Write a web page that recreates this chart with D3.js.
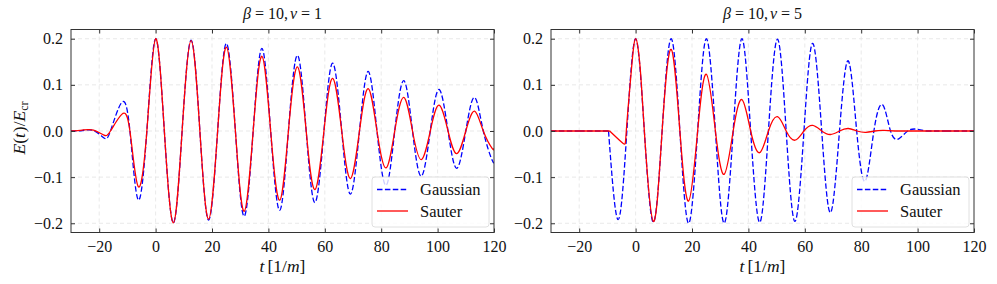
<!DOCTYPE html>
<html>
<head>
<meta charset="utf-8">
<script src="https://cdn.jsdelivr.net/npm/d3@7"></script>
<style>
  body { margin: 0; background: #fff; }
  svg text { font-family: "Liberation Serif", "DejaVu Serif", serif; fill: #111; }
</style>
</head>
<body>
<svg id="chart" width="997" height="284"></svg>
<script>
// values: extrema and zero crossings of E(t)/E_cr
let tNu1 = [-30, -26, -22, -18.3, -16, -12, -9.1, -6.2, -3.1, 0, 3.1, 6.3, 9.4, 12.6, 15.7, 18.8, 22.0, 25.1, 28.3, 31.4, 34.6, 37.7, 40.8, 44.0, 47.1, 50.3, 53.4, 56.5, 59.7, 62.8, 66.0, 69.1, 72.3, 75.4, 78.5, 81.7, 84.8, 88.0, 91.1, 94.2, 97.4, 100.5, 103.7, 106.8, 110.0, 113.1, 116.2, 119.4, 120];
let gaussNu1 = [0, 0.001, 0.001, -0.015, 0, 0.062, 0, -0.149, 0, 0.2, 0, -0.199, 0, 0.197, 0, -0.193, 0, 0.19, 0, -0.185, 0, 0.179, 0, -0.172, 0, 0.164, 0, -0.155, 0, 0.147, 0, -0.137, 0, 0.129, 0, -0.118, 0, 0.109, 0, -0.098, 0, 0.090, 0, -0.081, 0, 0.073, 0, -0.064, -0.063];
let sauterNu1 = [0, 0.002, 0.002, -0.009, 0, 0.036, 0, -0.120, 0, 0.2, 0, -0.199, 0, 0.196, 0, -0.191, 0, 0.182, 0, -0.174, 0, 0.162, 0, -0.150, 0, 0.139, 0, -0.127, 0, 0.114, 0, -0.103, 0, 0.092, 0, -0.080, 0, 0.073, 0, -0.062, 0, 0.056, 0, -0.049, 0, 0.043, 0, -0.038, -0.037];

let tGaussNu5 = [-30, -20, -9.6, -6.2, -3.1, 0, 3.1, 6.3, 9.4, 12.6, 15.7, 18.8, 22.0, 25.1, 28.3, 31.4, 34.6, 37.7, 40.8, 44.0, 47.1, 50.3, 53.4, 56.5, 59.7, 62.8, 66.0, 69.1, 72.3, 75.4, 78.4, 81.4, 84.5, 87.6, 90.4, 93.3, 96.5, 99.7, 103, 110, 120];
let gaussNu5 = [0, 0, 0, -0.192, 0, 0.2, 0, -0.198, 0, 0.2, 0, -0.2, 0, 0.2, 0, -0.2, 0, 0.2, 0, -0.198, 0, 0.199, 0, -0.196, 0, 0.19, 0, -0.177, 0, 0.152, 0, -0.109, 0, 0.057, 0, -0.017, 0, 0.004, 0, 0, 0];
let tSauterNu5 = [-30, -20, -9.2, -4.4, -3.3, -1.6, 0, 1.6, 3.1, 6.3, 9.4, 12.6, 15.7, 18.8, 22.0, 25.1, 28.3, 31.4, 34.6, 37.7, 40.8, 44.0, 47.1, 50.3, 53.4, 56.5, 59.7, 62.8, 66.0, 69.1, 72.3, 75.4, 78.5, 81.7, 84.8, 88.0, 92, 100, 110, 120];
let sauterNu5 = [0, 0, 0, -0.027, 0, 0.125, 0.2, 0.138, 0, -0.196, 0, 0.177, 0, -0.152, 0, 0.123, 0, -0.094, 0, 0.068, 0, -0.047, 0, 0.031, 0, -0.020, 0, 0.012, 0, -0.0076, 0, 0.0054, 0, -0.003, 0, 0.0012, 0, 0, 0, 0];

let nuValues = ["1", "5"];
let seriesNames = ["Gaussian", "Sauter"];
let xTicks = [-20, 0, 20, 40, 60, 80, 100, 120];
let yTicks = [-0.2, -0.1, 0.0, 0.1, 0.2];

let plotTop = 29.5, plotBottom = 232.5;
let panels = [
  { x0: 71, x1: 494, nu: nuValues[0], data: [[tNu1, gaussNu1], [tNu1, sauterNu1]] },
  { x0: 551, x1: 974, nu: nuValues[1], data: [[tGaussNu5, gaussNu5], [tSauterNu5, sauterNu5]] }
];
let styles = [
  { color: "#0000ff", dash: "5.5,2.4" },
  { color: "#ff0000", dash: null }
];

let svg = d3.select("#chart");
let fmt = d3.format(".1f");
let minus = (s) => s.replace("-", "\u2212");

// split a series: long runs of exact zeros are drawn straight, the rest as a smooth spline
function pieces(ts, vs) {
  let pts = ts.map((t, i) => [t, vs[i]]);
  let smooth = [], flat = [];
  let cur = [pts[0]];
  for (let i = 1; i < pts.length; i++) {
    let a = pts[i - 1], b = pts[i];
    if (a[1] === 0 && b[1] === 0 && b[0] - a[0] > 4) {
      if (cur.length > 1) smooth.push(cur);
      flat.push([a, b]);
      cur = [b];
    } else {
      cur.push(b);
    }
  }
  if (cur.length > 1) smooth.push(cur);
  return { smooth, flat };
}

panels.forEach((p, pi) => {
  let x = d3.scaleLinear().domain([-30, 120]).range([p.x0, p.x1]);
  let y = d3.scaleLinear().domain([-0.22, 0.22]).range([plotBottom, plotTop]);
  let g = svg.append("g");

  g.append("clipPath").attr("id", "clip" + pi)
    .append("rect").attr("x", p.x0).attr("y", plotTop).attr("width", p.x1 - p.x0).attr("height", plotBottom - plotTop);

  // grid
  g.selectAll(".gx").data(xTicks.filter(d => d < 120)).enter().append("line")
    .attr("x1", d => x(d)).attr("x2", d => x(d)).attr("y1", plotTop).attr("y2", plotBottom)
    .attr("stroke", "#e3e3e3").attr("stroke-width", 0.8).attr("stroke-dasharray", "4,3");
  g.selectAll(".gy").data(yTicks).enter().append("line")
    .attr("x1", p.x0).attr("x2", p.x1).attr("y1", d => y(d)).attr("y2", d => y(d))
    .attr("stroke", "#e3e3e3").attr("stroke-width", 0.8).attr("stroke-dasharray", "4,3");

  // curves
  let smoothLine = d3.line().x(d => x(d[0])).y(d => y(d[1])).curve(d3.curveNatural);
  let flatLine = d3.line().x(d => x(d[0])).y(d => y(d[1]));
  let plot = g.append("g").attr("clip-path", "url(#clip" + pi + ")");
  p.data.forEach((s, si) => {
    let pc = pieces(s[0], s[1]);
    let paths = pc.flat.map(f => flatLine(f)).concat(pc.smooth.map(sm => smoothLine(sm)));
    plot.append("path")
      .attr("d", paths.join(""))
      .attr("fill", "none")
      .attr("stroke", styles[si].color)
      .attr("stroke-width", 1.3)
      .attr("stroke-dasharray", styles[si].dash);
  });

  // legend
  let lg = g.append("g");
  lg.append("rect").attr("x", p.x1 - 122).attr("y", 177).attr("width", 117).attr("height", 50)
    .attr("rx", 3).attr("fill", "#fff").attr("fill-opacity", 0.8)
    .attr("stroke", "#d8d8d8").attr("stroke-width", 0.8);
  seriesNames.forEach((name, si) => {
    let ly = 189.5 + si * 21.5;
    lg.append("line").attr("x1", p.x1 - 117).attr("x2", p.x1 - 86).attr("y1", ly).attr("y2", ly)
      .attr("stroke", styles[si].color).attr("stroke-width", 1.3)
      .attr("stroke-dasharray", styles[si].dash);
    lg.append("text").attr("x", p.x1 - 74).attr("y", ly + 5.5).attr("font-size", 16.5).text(name);
  });

  // frame with inward ticks on all sides
  g.append("rect").attr("x", p.x0).attr("y", plotTop).attr("width", p.x1 - p.x0).attr("height", plotBottom - plotTop)
    .attr("fill", "none").attr("stroke", "#333").attr("stroke-width", 1);
  let bAxis = g.append("g").attr("transform", "translate(0," + plotBottom + ")")
    .call(d3.axisBottom(x).tickValues(xTicks).tickSize(-4).tickPadding(8).tickFormat(d => minus(String(d))));
  let tAxis = g.append("g").attr("transform", "translate(0," + plotTop + ")")
    .call(d3.axisTop(x).tickValues(xTicks).tickSize(-4).tickFormat(""));
  let lAxis = g.append("g").attr("transform", "translate(" + p.x0 + ",0)")
    .call(d3.axisLeft(y).tickValues(yTicks).tickSize(-4).tickPadding(8).tickFormat(d => minus(fmt(d))));
  let rAxis = g.append("g").attr("transform", "translate(" + p.x1 + ",0)")
    .call(d3.axisRight(y).tickValues(yTicks).tickSize(-4).tickFormat(""));
  [bAxis, tAxis, lAxis, rAxis].forEach(a => {
    a.select(".domain").remove();
    a.selectAll(".tick line").attr("stroke", "#333");
    a.selectAll("text").attr("font-family", "Liberation Serif").attr("font-size", 16).attr("fill", "#111");
  });

  // title
  let cx = (p.x0 + p.x1) / 2;
  let title = g.append("text").attr("x", cx).attr("y", 19).attr("text-anchor", "middle").attr("font-size", 16);
  title.append("tspan").attr("font-style", "italic").text("β");
  title.append("tspan").text(" = 10,");
  title.append("tspan").attr("font-style", "italic").attr("dx", 2).text("ν");
  title.append("tspan").text(" = " + p.nu);

  // x label
  let xl = g.append("text").attr("x", cx).attr("y", 272).attr("text-anchor", "middle").attr("font-size", 17.5);
  xl.append("tspan").attr("font-style", "italic").text("t");
  xl.append("tspan").attr("dx", 3).text("[1/");
  xl.append("tspan").attr("font-style", "italic").text("m");
  xl.append("tspan").text("]");
});

// y label (left panel only)
let yl = svg.append("text").attr("transform", "translate(25," + ((plotTop + plotBottom) / 2 - 3) + ") rotate(-90)")
  .attr("text-anchor", "middle").attr("font-size", 17.5);
yl.append("tspan").attr("font-style", "italic").text("E");
yl.append("tspan").text("(");
yl.append("tspan").attr("font-style", "italic").text("t");
yl.append("tspan").attr("dx", 1).text(")/");
yl.append("tspan").attr("font-style", "italic").text("E");
yl.append("tspan").attr("font-size", 12).attr("dy", 3).text("cr");
</script>
</body>
</html>
